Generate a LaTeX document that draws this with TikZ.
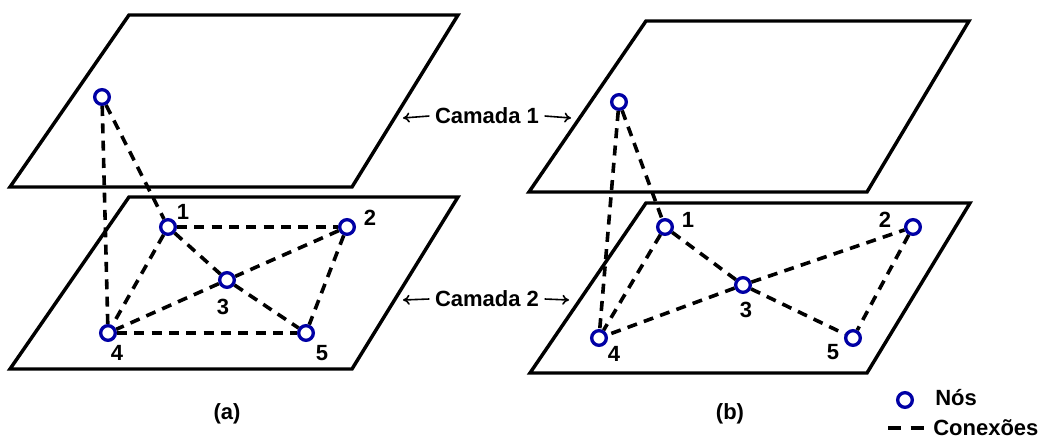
\documentclass[tikz,border=0pt]{standalone}
\usepackage{fontspec}
\setmainfont{Liberation Sans}
\usetikzlibrary{arrows.meta}
\definecolor{nodeblue}{RGB}{0,0,165}
\begin{document}
\begin{tikzpicture}[x=0.75pt,y=-0.75pt,
  plane/.style={draw=black,line width=2.6pt,line join=miter},
  nd/.style={circle,draw=nodeblue,line width=2.5pt,minimum size=11pt,inner sep=0pt,fill=white},
  conn/.style={draw=black,line width=2.7pt,dash pattern=on 7.5pt off 5.5pt},
  lbl/.style={font=\fontsize{16.5}{19}\selectfont\bfseries,inner sep=0pt},
  larrow/.style={-{To[length=5pt,width=7.5pt]},line width=1.2pt}]
\useasboundingbox (0,0) rectangle (1051,439);
% planes (a)
\draw[plane] (129,15) -- (458,15) -- (352,187) -- (10,187) -- cycle;
\draw[plane] (129,197) -- (458,197) -- (352,369) -- (10,369) -- cycle;
% planes (b)
\draw[plane] (646,21) -- (969,21) -- (867,192) -- (529,192) -- cycle;
\draw[plane] (646,203) -- (970,203) -- (867,373) -- (530,373) -- cycle;
% nodes (a)
\node[nd] (at) at (102,97) {};
\node[nd] (a1) at (168,227) {};
\node[nd] (a2) at (347,227) {};
\node[nd] (a3) at (227,280) {};
\node[nd] (a4) at (108,333) {};
\node[nd] (a5) at (306,333) {};
% nodes (b)
\node[nd] (bt) at (619,102) {};
\node[nd] (b1) at (665,227) {};
\node[nd] (b2) at (913,227) {};
\node[nd] (b3) at (743,285) {};
\node[nd] (b4) at (599,338) {};
\node[nd] (b5) at (853,338) {};
% connections (a)
\draw[conn] (at) -- (a4);
\draw[conn] (at) -- (a1);
\draw[conn] (a1) -- (a2);
\draw[conn] (a1) -- (a3);
\draw[conn] (a1) -- (a4);
\draw[conn] (a2) -- (a3);
\draw[conn] (a2) -- (a5);
\draw[conn] (a3) -- (a4);
\draw[conn] (a3) -- (a5);
\draw[conn] (a4) -- (a5);
% connections (b)
\draw[conn] (bt) -- (b4);
\draw[conn] (bt) -- (b1);
\draw[conn] (b1) -- (b3);
\draw[conn] (b1) -- (b4);
\draw[conn] (b3) -- (b2);
\draw[conn] (b3) -- (b4);
\draw[conn] (b3) -- (b5);
\draw[conn] (b2) -- (b5);
% number labels (a)
\node[lbl] (la1) at (183,212) {1};
\node[lbl] (la2) at (370,218) {2};
\node[lbl] (la3) at (223,307) {3};
\node[lbl] (la4) at (117,353) {4};
\node[lbl] (la5) at (322,353) {5};
% number labels (b)
\node[lbl] (lb1) at (688,220) {1};
\node[lbl] (lb2) at (885,220) {2};
\node[lbl] (lb3) at (746,310) {3};
\node[lbl] (lb4) at (614,354) {4};
\node[lbl] (lb5) at (833,352) {5};
% layer labels
\node[lbl] (c1) at (487,116) {Camada 1};
\coordinate (c1l) at (403,118);
\coordinate (c1r) at (571,118);
\draw[larrow] (c1.west) ++(-4pt,0) coordinate (c1ls) (c1ls) -- (c1l);
\draw[larrow] (c1.east) ++(4pt,0) coordinate (c1rs) (c1rs) -- (c1r);
\node[lbl] (c2) at (487,299) {Camada 2};
\coordinate (c2l) at (403,300);
\coordinate (c2r) at (569,300);
\draw[larrow] (c2.west) ++(-4pt,0) coordinate (c2ls) (c2ls) -- (c2l);
\draw[larrow] (c2.east) ++(4pt,0) coordinate (c2rs) (c2rs) -- (c2r);
% captions
\node[lbl] (capa) at (227,414) {(a)};
\node[lbl] (capb) at (730,414) {(b)};
% legend
\node[nd] (legn) at (905,400) {};
\node[lbl,anchor=west] (legnt) at (935,398) {Nós};
\coordinate (legd1) at (888,428);
\coordinate (legd2) at (924,428);
\draw[conn,dash pattern=on 10pt off 7pt] (legd1) -- (legd2);
\node[lbl,anchor=west] (legct) at (933,428) {Conexões};
\end{tikzpicture}
\end{document}
